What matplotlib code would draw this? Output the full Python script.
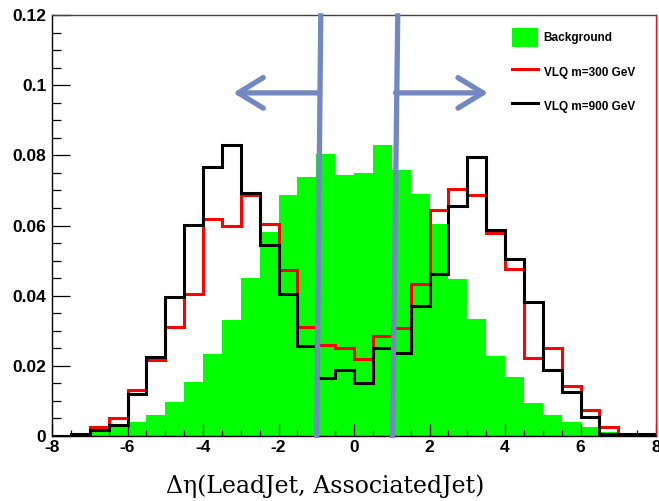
import numpy as np
import matplotlib
matplotlib.use("Agg")
import matplotlib.pyplot as plt
from matplotlib.patches import Patch, FancyArrowPatch
from matplotlib.lines import Line2D
from matplotlib.ticker import MultipleLocator

edges = np.arange(-8, 8.01, 0.5)

background = [0.0, 0.0, 0.0012, 0.0027, 0.0041, 0.0060, 0.0096, 0.0154,
              0.0234, 0.0330, 0.0450, 0.0581, 0.0686, 0.0737, 0.0803, 0.0744,
              0.0750, 0.0829, 0.0758, 0.0689, 0.0603, 0.0448, 0.0333, 0.0229,
              0.0169, 0.0095, 0.0060, 0.0041, 0.0025, 0.0012, 0.0003, 0.0]

vlq300 = [0.0, 0.0003, 0.0027, 0.0051, 0.0130, 0.0217, 0.0312, 0.0405,
          0.0619, 0.0600, 0.0687, 0.0604, 0.0473, 0.0311, 0.0260, 0.0250,
          0.0219, 0.0284, 0.0307, 0.0432, 0.0643, 0.0705, 0.0686, 0.0579,
          0.0476, 0.0223, 0.0250, 0.0143, 0.0074, 0.0027, 0.0002, 0.0]

vlq900 = [0.0, 0.0006, 0.0017, 0.0030, 0.0119, 0.0224, 0.0395, 0.0601,
          0.0767, 0.0829, 0.0693, 0.0543, 0.0406, 0.0257, 0.0164, 0.0189,
          0.0152, 0.0250, 0.0236, 0.0371, 0.0462, 0.0655, 0.0796, 0.0587,
          0.0505, 0.0383, 0.0189, 0.0126, 0.0053, 0.0006, 0.0006, 0.0005]

labels = ["Background", "VLQ m=300 GeV", "VLQ m=900 GeV"]
xlabel = "\u0394\u03b7(LeadJet, AssociatedJet)"

# cut lines (slightly tilted, hand drawn) and arrows
cut_left = ([-0.88, -0.99], [0.1205, -0.0006])
cut_right = ([1.16, 1.02], [0.1205, -0.0006])
arrow_y = 0.0978
arrow_left = (-0.92, -3.2)
arrow_right = (1.10, 3.55)

W, H = 659, 501
fig = plt.figure(figsize=(W / 100, H / 100), dpi=100)
ax = fig.add_axes([52 / W, 1 - 436 / H, (656 - 52) / W, (436 - 15) / H])

ax.stairs(background, edges, fill=True, color="#00ff00", lw=0, zorder=1)
ax.stairs(vlq300, edges, color="#ff0000", lw=2.2, zorder=2)
ax.stairs(vlq900, edges, color="black", lw=2.2, zorder=3)

ax.set_xlim(-8, 8)
ax.set_ylim(0, 0.12)

ax.xaxis.set_minor_locator(MultipleLocator(0.5))
ax.yaxis.set_minor_locator(MultipleLocator(0.005))

xt = np.arange(-8, 9, 2)
ax.set_xticks(xt)
ax.set_xticklabels([f"{v:d}" for v in xt])
yt = [0, 0.02, 0.04, 0.06, 0.08, 0.1, 0.12]
ax.set_yticks(yt)
ax.set_yticklabels(["0", "0.02", "0.04", "0.06", "0.08", "0.1", "0.12"])

ax.tick_params(axis="y", which="major", direction="in", length=13, width=0.9, pad=4)
ax.tick_params(axis="y", which="minor", direction="in", length=6.5, width=0.9)
ax.tick_params(axis="x", which="major", direction="in", length=8.6, width=0.9, pad=3)
ax.tick_params(axis="x", which="minor", direction="in", length=4.3, width=0.9)
for lab in ax.get_xticklabels() + ax.get_yticklabels():
    lab.set_fontfamily("Liberation Sans")
    lab.set_fontweight("bold")
    lab.set_fontsize(12.5)

for s in ["left", "bottom"]:
    ax.spines[s].set_linewidth(1.0)
    ax.spines[s].set_color("black")
ax.spines["top"].set_color("#444444")
ax.spines["top"].set_linewidth(1.0)
ax.spines["right"].set_color("#ff0000")
ax.spines["right"].set_linewidth(1.0)

ax.set_xlabel(xlabel, fontfamily="DejaVu Serif", fontsize=17, labelpad=14,
              x=0.452)

handles = [Patch(facecolor="#00ff00", edgecolor="none"),
           Line2D([], [], color="#ff0000", lw=2.2),
           Line2D([], [], color="black", lw=2.2)]
leg = ax.legend(handles, labels, loc="upper left", bbox_to_anchor=(0.762, 0.969),
                frameon=False, borderpad=0, borderaxespad=0,
                handlelength=2.2, handleheight=2.1, handletextpad=0.45,
                labelspacing=1.3, prop={"family": "Liberation Sans", "weight": "bold", "size": 8.5})

blue = "#7388c1"
ax.plot(*cut_left, color=blue, lw=3.8, solid_capstyle="butt", clip_on=False, zorder=5)
ax.plot(*cut_right, color=blue, lw=3.8, solid_capstyle="butt", clip_on=False, zorder=5)
for x0, x1 in [arrow_left, arrow_right]:
    arr = FancyArrowPatch((x0, arrow_y), (x1, arrow_y),
                          arrowstyle="->,head_length=0.9,head_width=0.55",
                          mutation_scale=20, color=blue, lw=3.8,
                          capstyle="round", joinstyle="round",
                          shrinkA=0, shrinkB=0, zorder=5, clip_on=False)
    ax.add_patch(arr)

fig.savefig("out.png", dpi=100)
